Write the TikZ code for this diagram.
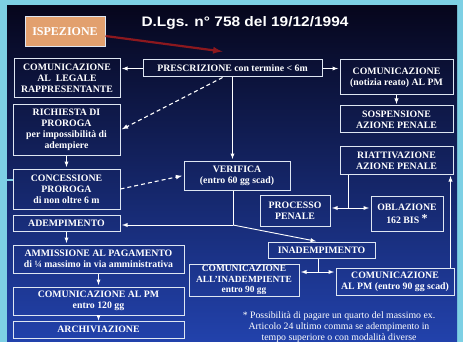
\documentclass[tikz,border=0pt]{standalone}
\usepackage{fontspec}
\setmainfont{Liberation Serif}
\newfontfamily\titlefont[FakeStretch=1.12]{Liberation Sans}
\usepackage{tikz}

\definecolor{frame}{RGB}{125,208,228}
\definecolor{bgtop}{RGB}{6,6,28}
\definecolor{bgmid}{RGB}{24,42,135}
\definecolor{bgbot}{RGB}{34,66,172}
\definecolor{edge}{RGB}{222,230,242}
\definecolor{ispfill}{RGB}{226,160,110}
\definecolor{redarr}{RGB}{140,24,30}

\begin{document}
\begin{tikzpicture}[x=1pt,y=-1pt,
  box/.style={draw=edge,line width=1pt,text=white,align=center,inner sep=1pt,
    font=\bfseries\fontsize{9.8}{11}\selectfont},
  link/.style={white,line width=0.9pt},
  arr/.style={link,->,>=latex,shorten >=1.5pt},
  arrs/.style={link,<->,>=latex,shorten >=1.5pt,shorten <=1.5pt},
  dashlink/.style={arr,dash pattern=on 4pt off 3pt,line width=1.1pt},
  redarrow/.style={draw=redarr,line width=2.2pt,->,>=latex}]
\useasboundingbox (0,0) rectangle (463,342);
\clip (0,0) rectangle (463,342);
\fill[frame] (0,0) rectangle (463,342);
\shade[top color=bgtop,middle color=bgmid,bottom color=bgbot] (7,6) rectangle (457,342);
\draw[frame,line width=1.5pt] (0,180) -- (13,180);

\node[font=\titlefont\bfseries\fontsize{13.8}{15}\selectfont,text=white] (tit) at (245,23) {D.Lgs. n° 758 del 19/12/1994};
\node[box,fill=ispfill,minimum width=80pt,minimum height=30pt,font=\bfseries\fontsize{12}{14}\selectfont] (isp) at (65,32) {ISPEZIONE};

\node[box,minimum width=106pt,minimum height=39pt] (leg) at (67,78.5) {COMUNICAZIONE\\AL\ \ LEGALE\\RAPPRESENTANTE};
\node[box,minimum width=179pt,minimum height=17pt] (pre) at (232.5,68.5) {PRESCRIZIONE con termine < 6m};
\node[box,minimum width=113pt,minimum height=35pt] (not) at (396.5,77.5) {COMUNICAZIONE\\(notizia reato) AL PM};
\node[box,minimum width=113pt,minimum height=27pt] (sos) at (396.5,119.5) {SOSPENSIONE\\AZIONE PENALE};
\node[box,minimum width=113pt,minimum height=27pt] (ria) at (396.5,160.5) {RIATTIVAZIONE\\AZIONE PENALE};
\node[box,minimum width=107pt,minimum height=50pt] (ric) at (66.5,130) {RICHIESTA DI\\PROROGA\\per impossibilità di\\adempiere};
\node[box,minimum width=107pt,minimum height=40pt] (con) at (66.5,189) {CONCESSIONE\\PROROGA\\di non oltre 6 m};
\node[box,minimum width=107pt,minimum height=16pt] (ade) at (66.5,223) {ADEMPIMENTO};
\node[box,minimum width=106pt,minimum height=29pt] (ver) at (237,175.5) {VERIFICA\\(entro 60 gg scad)};
\node[box,minimum width=70pt,minimum height=31pt] (pro) at (295,210.5) {PROCESSO\\PENALE};
\node[box,minimum width=72pt,minimum height=35pt] (obl) at (407,213.5) {OBLAZIONE\\[2pt]162 BIS {\fontsize{12}{12}\selectfont\raisebox{1pt}{*}}};
\node[box,minimum width=107pt,minimum height=16pt] (ina) at (321.5,250) {INADEMPIMENTO};
\node[box,minimum width=110pt,minimum height=32pt,inner sep=0pt,font=\bfseries\fontsize{9.4}{10.3}\selectfont] (cin) at (244,280) {COMUNICAZIONE\\ALL’INADEMPIENTE\\entro 90 gg};
\node[box,minimum width=118pt,minimum height=27pt] (cpm) at (395,281.5) {COMUNICAZIONE\\AL PM (entro 90 gg scad)};
\node[box,minimum width=171pt,minimum height=28pt] (amm) at (98.5,259) {AMMISSIONE AL PAGAMENTO\\di ¼ massimo in via amministrativa};
\node[box,minimum width=171pt,minimum height=28pt] (c120) at (98.5,301) {COMUNICAZIONE AL PM\\entro 120 gg};
\node[box,minimum width=171pt,minimum height=17pt] (arc) at (98.5,329.5) {ARCHIVIAZIONE};
\node[text=white,align=center,font=\fontsize{9.8}{11}\selectfont] (nota) at (339,327) {* Possibilità di pagare un quarto del massimo ex.\\Articolo 24 ultimo comma se adempimento in\\tempo superiore o con modalità diverse};

\draw[redarrow] ([yshift=-4pt]isp.east) -- ([shift={(-10pt,8pt)}]pre.north);
\draw[arr] (pre.west) -- (pre.west -| leg.east);
\draw[arr] (pre.east) -- (pre.east -| not.west);
\draw[arr] (not) -- (sos);
\draw[dashlink] ([xshift=-10pt]pre.south) -- (ric.east);
\draw[arr] (pre.south) -- (pre.south |- ver.north);
\draw[arr] (ric) -- (con);
\draw[dashlink] (con.east) -- (ver.west);
\coordinate (split) at (233,225);
\draw[link] (ver.south -| split) -- (split);
\draw[arr] (split) -- (split -| ade.east);
\draw[arr] (split) -- ([xshift=-4pt]ina.north);
\coordinate (fork) at (348,208);
\draw[link] (fork |- ria.south) -- (fork);
\draw[arrs] (fork -| pro.east) -- (fork -| obl.west);
\draw[arr] ([xshift=-4pt]cpm.north east) -- ([xshift=-4pt]cpm.north east |- ria.south);
\coordinate (fork2) at (318,272);
\draw[link] (fork2 |- ina.south) -- (fork2);
\draw[arrs] (fork2 -| cin.east) -- (fork2 -| cpm.west);
\draw[arr] (ade.south) -- (ade.south |- amm.north);
\draw[arr] (amm) -- (c120);
\draw[link,->,>=latex] (c120) -- (arc);
\end{tikzpicture}
\end{document}
